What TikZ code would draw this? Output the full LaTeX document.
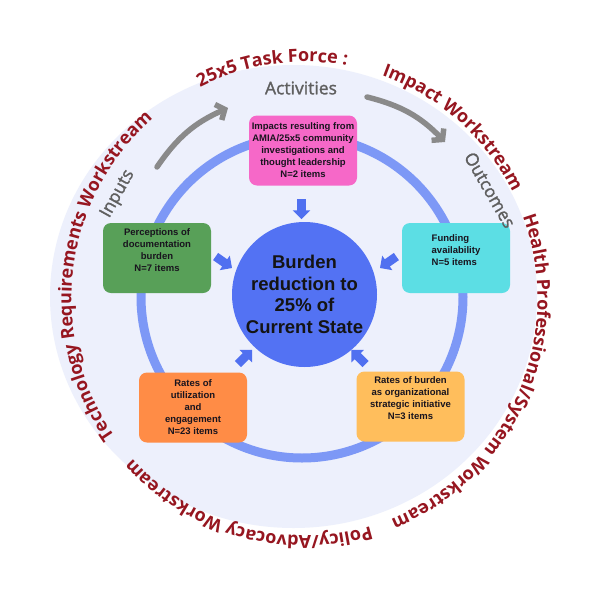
\documentclass[tikz,border=0pt]{standalone}
\usepackage{fontspec}
\setmainfont{Liberation Sans}
\newfontfamily\osfont{Open Sans}
\newfontfamily\osgray[FakeBold=1.5]{Open Sans}
\usetikzlibrary{shapes.arrows, decorations.text, arrows.meta}
\definecolor{bgl}{RGB}{237,240,252}
\definecolor{ringc}{RGB}{125,152,246}
\definecolor{corec}{RGB}{83,114,243}
\definecolor{smarr}{RGB}{80,112,240}
\definecolor{wsred}{RGB}{150,22,32}
\definecolor{grayt}{RGB}{95,95,95}
\definecolor{graya}{RGB}{138,138,138}
\definecolor{pinkc}{RGB}{246,104,200}
\definecolor{greenc}{RGB}{88,160,88}
\definecolor{cyanc}{RGB}{92,222,228}
\definecolor{orangec}{RGB}{255,140,70}
\definecolor{goldc}{RGB}{255,190,92}
\definecolor{boxtxt}{RGB}{25,20,30}
\tikzset{
  boxnode/.style={rounded corners=8pt, minimum width=108pt, minimum height=70pt,
    inner sep=0pt, align=center, text=boxtxt,
    font=\bfseries\fontsize{9.5}{12}\selectfont},
  graytxt/.style={text=grayt, font=\osgray\fontsize{17.5}{17.5}\selectfont, inner sep=0pt},
  smallarrow/.style={single arrow, fill=smarr, draw=none, minimum height=20pt,
    single arrow head extend=4.5pt, inner sep=4.2pt},
  grayarrow/.style={draw=graya, line width=5.5pt, line cap=round,
    -{Straight Barb[length=7pt, width=17pt]}},
  wspath/.style={decorate, decoration={text along path, text align=center,
    text={|\osfont\bfseries\fontsize{18}{18}\selectfont\color{wsred}|#1}}}
}
\begin{document}
\begin{tikzpicture}[x=1pt,y=1pt]
\fill[white] (0,0) rectangle (600,-600);
\useasboundingbox (0,0) rectangle (600,-600);
% background disc
\fill[bgl] (293.5,-296.5) ellipse[x radius=243.5, y radius=231.5];
% ring
\coordinate (R) at (302,-297);
\draw[ringc, line width=9pt] (R) circle[radius=161];
% boxes
\node[boxnode, fill=pinkc] (imp) at (303,-150.5)
  {Impacts resulting from\\AMIA/25x5 community\\investigations and\\thought leadership\\N=2 items};
\node[boxnode, fill=greenc] (perc) at (157,-258)
  {Perceptions of\\documentation\\burden\\N=7 items\\[4pt]};
\node[boxnode, fill=cyanc, align=left] (fund) at (456,-258)
  {Funding\\availability\\N=5 items\\[3pt]};
\node[boxnode, fill=orangec] (util) at (193,-407.5)
  {Rates of\\utilization\\and\\engagement\\N=23 items};
\node[boxnode, fill=goldc] (rate) at (410.5,-406.5)
  {Rates of burden\\as organizational\\strategic initiative\\N=3 items\\[4pt]};
% core
\node[circle, fill=corec, minimum size=145pt, inner sep=0pt, align=center,
  font=\bfseries\fontsize{18.5}{21.7}\selectfont, text=black!92] (core) at (304.5,-294.5)
  {Burden\\reduction to\\25\% of\\Current State};
% small arrows
\node[smallarrow, rotate=-90] (a1) at (301.5,-207) {};
\node[smallarrow, rotate=-35] (a2) at (222,-261) {};
\node[smallarrow, rotate=-145] (a3) at (390,-261) {};
\node[smallarrow, rotate=45] (a4) at (243.5,-358.5) {};
\node[smallarrow, rotate=135] (a5) at (360,-358.5) {};
% gray arrows
\coordinate (ga1) at (157,-167);
\coordinate (ga2) at (228,-108);
\coordinate (gb1) at (367,-97);
\coordinate (gb2) at (445,-142);
\draw[grayarrow] (ga1) to[bend left=16] (ga2);
\draw[grayarrow] (gb1) to[bend left=16] (gb2);
% gray labels
\node[graytxt] (act) at (301,-88) {Activities};
\node[graytxt, rotate=61] (inp) at (118,-194) {Inputs};
\node[graytxt, rotate=-60] (outc) at (490,-190) {Outcomes};
% workstream texts
\coordinate (C) at (304.5,-299);
\path[wspath={25x5 Task Force :}] (C) ++(158:233 and 237)
  arc[start angle=158, end angle=38, x radius=233, y radius=237];
\path[wspath={Impact Workstream}] (C) ++(109:233 and 237)
  arc[start angle=109, end angle=-11, x radius=233, y radius=237];
\path[wspath={Health Professional/System Workstream}] (C) ++(36:233 and 237)
  arc[start angle=36, end angle=-84, x radius=233, y radius=237];
\path[wspath={Policy/Advocacy Workstream}] (C) ++(-45.5:233 and 237)
  arc[start angle=-45.5, end angle=-165.5, x radius=233, y radius=237];
\path[wspath={Technology Requirements Workstream}] (C) ++(233:233 and 237)
  arc[start angle=233, end angle=113, x radius=233, y radius=237];
\end{tikzpicture}
\end{document}
